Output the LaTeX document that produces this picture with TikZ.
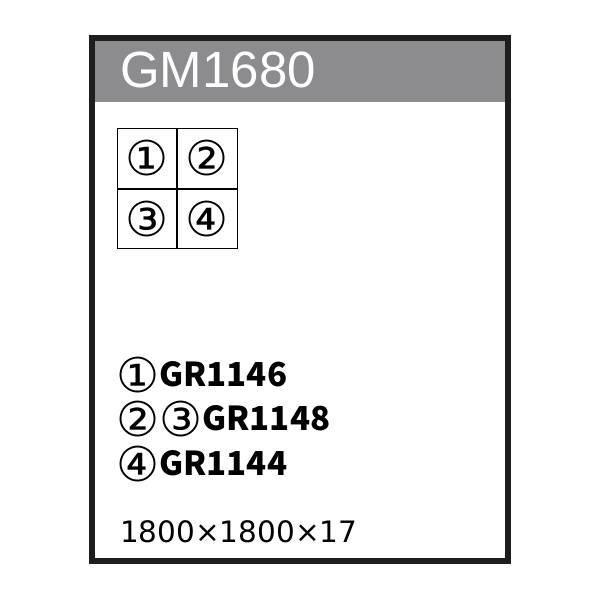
\documentclass[tikz,border=0pt]{standalone}
\usepackage{fontspec}
\setmainfont{DejaVu Sans}
\newfontfamily\headfont{Liberation Sans}
\newfontfamily\partfont{Noto Sans CJK JP}
\usetikzlibrary{positioning}
\definecolor{framegray}{HTML}{1E1E1E}
\definecolor{headgray}{HTML}{8C8B8E}
\begin{document}
\begin{tikzpicture}[x=1pt,y=-1pt,
    cell/.style={draw,line width=0.8pt,minimum size=59.5pt,inner sep=0pt,
      font=\fontsize{48}{48}\selectfont},
    partline/.style={anchor=base west,inner sep=0pt,
      font=\partfont\bfseries\fontsize{33}{33}\selectfont}]
    \def\cn#1{\raisebox{-6pt}{\normalfont\fontsize{48}{48}\selectfont#1}}
    \useasboundingbox (0,0) rectangle (600,600);
    % frame and header
    \fill[headgray] (95,41) rectangle (505,102);
    \draw[framegray,line width=6pt] (92,38) rectangle (508,560.5);
    \node[anchor=base west,inner sep=0pt,text=white,
      font=\headfont\fontsize{51}{51}\selectfont] (title) at (120,87) {GM1680};
    % panel layout
    \node[cell] (c1) at (147,158.5) {①};
    \node[cell,right=0pt of c1] (c2) {②};
    \node[cell,below=0pt of c1] (c3) {③};
    \node[cell,right=0pt of c3] (c4) {④};
    % parts
    \node[partline] (p1) at (116,386) {\cn{①}GR1146};
    \node[partline] (p2) at (116,430) {\cn{②}\cn{③}GR1148};
    \node[partline] (p3) at (116,475) {\cn{④}GR1144};
    \node[anchor=base west,inner sep=0pt,
      font=\fontsize{29.5}{29.5}\selectfont] (size) at (120,542) {1800×1800×17};
\end{tikzpicture}
\end{document}
